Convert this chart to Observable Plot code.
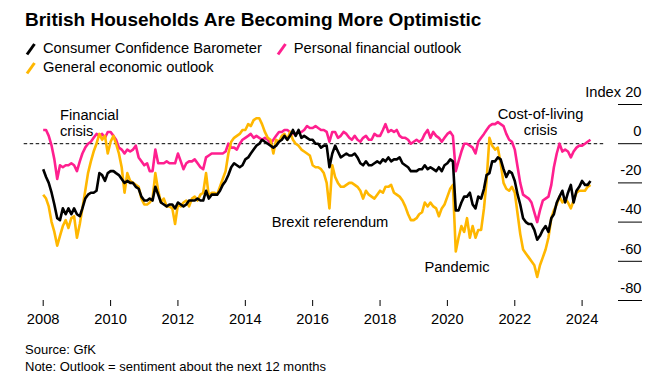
<!DOCTYPE html>
<html><head><meta charset="utf-8">
<script src="https://cdn.jsdelivr.net/npm/d3@7"></script>
<script src="https://cdn.jsdelivr.net/npm/@observablehq/plot@0.6"></script>
<style>
body{margin:0;background:#fff;font-family:"Liberation Sans",Arial,Helvetica,sans-serif;color:#000;}
#wrap{position:relative;width:661px;height:391px;overflow:hidden;background:#fff}
#title{position:absolute;left:25px;top:9px;font-weight:bold;font-size:19px;line-height:22px;white-space:nowrap}
#legend{position:absolute;left:25px;top:39px;width:480px;font-size:14.7px;line-height:19px;display:flex;flex-wrap:wrap}
.item{display:flex;align-items:center;margin-right:14px;white-space:nowrap}
.item svg{margin-right:6px}
#chart{position:absolute;left:0;top:80px}
#footer{position:absolute;left:25px;top:341px;font-size:13px;line-height:17px}
</style></head>
<body><div id="wrap">
<div id="title">British Households Are Becoming More Optimistic</div>
<div id="legend"></div>
<div id="chart"></div>
<div id="footer"><div>Source: GfK</div><div>Note: Outlook = sentiment about the next 12 months</div></div>
</div>
<script>
// Monthly values, Jan 2008 – Apr 2024
const startMonth = "2008-01-01";
const seriesNames = ["Consumer Confidence Barometer", "Personal financial outlook", "General economic outlook"];
const seriesColors = ["#000000", "#ff1f8f", "#ffb700"];

const confidence = [
 -13,-17,-20,-25,-31,-38,-39,-33,-36,-33,-36,-33,
 -36,-37,-33,-28,-26,-25,-25,-24,-15,-16,-19,-15,
 -14,-14,-15,-16,-18,-20,-19,-20,-20,-22,-23,-27,
 -29,-29,-28,-29,-22,-26,-30,-31,-32,-31,-31,-33,
 -30,-31,-32,-31,-29,-29,-29,-28,-29,-29,-24,-28,
 -26,-26,-26,-24,-21,-19,-16,-12,-10,-11,-12,-11,
 -8,-7,-5,-3,-1,0,2,1,0,-1,-2,-1,
 1,2,4,2,4,7,4,7,3,4,3,2,
 2,0,0,-2,-1,-1,-12,-5,-1,-4,-7,-6,
 -5,-6,-6,-5,-7,-10,-11,-9,-11,-11,-10,-9,
 -10,-8,-9,-7,-9,-8,-8,-7,-10,-11,-12,-14,
 -14,-14,-13,-13,-11,-13,-12,-13,-14,-12,-14,-11,
 -10,-8,-9,-34,-34,-30,-27,-27,-25,-31,-33,-27,
 -28,-23,-16,-15,-9,-9,-7,-8,-13,-17,-14,-15,
 -19,-26,-31,-38,-40,-41,-41,-44,-49,-47,-44,-42,
 -45,-38,-36,-30,-27,-24,-30,-25,-21,-30,-24,-22,
 -19,-21,-21,-19
];
const personal = [
 7,7,4,-1,-8,-18,-11,-12,-11,-11,-10,-11,
 -14,-9,-5,-2,0,1,3,5,4,5,3,6,
 6,4,2,-2,-3,-5,-3,-4,-3,-1,-7,-9,
 -11,-10,-14,-14,-3,-10,-10,-10,-9,-10,-10,-10,
 -5,-9,-13,-10,-9,-9,-8,-10,-12,-13,-7,-6,
 -5,-5,-5,-5,-5,-4,0,-2,-2,-3,0,2,
 3,4,5,3,4,3,2,3,2,0,2,4,
 6,6,7,7,6,5,5,6,6,7,9,8,
 8,9,8,7,7,6,1,6,6,3,4,6,
 5,3,2,4,2,1,3,4,2,2,5,4,
 4,7,10,6,7,6,7,4,3,3,2,0,
 1,2,1,2,5,7,3,6,4,3,1,3,
 5,6,4,-14,-9,-4,0,0,-1,-2,-5,1,
 3,5,7,9,10,10,11,10,9,5,2,1,
 -3,-12,-20,-26,-27,-28,-30,-35,-40,-34,-29,-28,
 -27,-21,-12,-5,0,-4,-3,-4,-7,-4,-2,-1,
 -1,0,1,2
];
const economic = [
 -26,-28,-32,-40,-45,-52,-47,-42,-39,-43,-38,-37,
 -48,-41,-33,-24,-15,-9,-4,0,5,2,4,-5,
 1,4,0,-5,-12,-25,-15,-19,-20,-21,-22,-28,
 -31,-31,-30,-28,-15,-24,-30,-28,-32,-32,-33,-41,
 -31,-32,-30,-29,-32,-28,-27,-29,-26,-25,-15,-27,
 -25,-25,-26,-22,-18,-14,-5,1,3,4,5,7,
 7,10,9,12,13,13,10,6,3,2,-5,2,
 1,4,5,2,6,2,0,-1,-3,-4,-5,-6,
 -11,-12,-12,-13,-15,-20,-33,-11,-17,-20,-22,-22,
 -21,-20,-20,-21,-22,-24,-28,-24,-26,-27,-28,-26,
 -24,-25,-22,-22,-21,-25,-26,-27,-29,-32,-36,-39,
 -39,-38,-36,-35,-30,-32,-30,-32,-33,-37,-33,-31,
 -27,-23,-21,-55,-48,-42,-45,-38,-48,-42,-48,-44,
 -44,-33,-19,3,-1,-3,-2,-10,-20,-23,-24,-22,
 -25,-36,-46,-54,-56,-58,-60,-62,-68,-62,-58,-54,
 -48,-38,-34,-31,-27,-30,-28,-30,-33,-29,-25,-24,
 -24,-24,-22,-21
];
const xTickYears = [2008, 2010, 2012, 2014, 2016, 2018, 2020, 2022, 2024];
const yTicks = [20, 0, -20, -40, -60, -80];
const annotations = [
  {date: "2008-07-01", value: 10.5, label: "Financial\ncrisis", anchor: "start"},
  {date: "2016-07-07", value: -40, label: "Brexit referendum", anchor: "middle"},
  {date: "2020-04-15", value: -63, label: "Pandemic", anchor: "middle"},
  {date: "2022-10-07", value: 11, label: "Cost-of-living\ncrisis", anchor: "middle"}
];

// legend
const legend = document.getElementById("legend");
seriesNames.forEach((name, i) => {
  const item = document.createElement("div");
  item.className = "item";
  item.innerHTML = `<svg width="12" height="14"><line x1="2" y1="12.5" x2="9.5" y2="2" stroke="${seriesColors[i]}" stroke-width="3"/></svg><span>${name}</span>`;
  legend.appendChild(item);
});

const start = new Date(startMonth);
const seriesValues = [confidence, personal, economic];
const rows = [];
// draw order: personal, economic, confidence (black on top)
[1, 2, 0].forEach(si => {
  seriesValues[si].forEach((v, i) => rows.push({series: seriesNames[si], date: d3.utcMonth.offset(start, i), value: v}));
});
const ann = annotations.map(a => ({...a, date: new Date(a.date)}));

const chart = Plot.plot({
  width: 661,
  height: 260,
  marginLeft: 42.7,
  marginRight: 79.4,
  marginTop: 24,
  marginBottom: 40,
  style: {fontFamily: '"Liberation Sans", Arial, Helvetica, sans-serif', fontSize: "14.7px", color: "#000", background: "transparent", overflow: "visible"},
  x: {type: "utc", domain: [new Date("2008-01-01"), new Date("2024-01-01")]},
  y: {domain: [-80, 20]},
  color: {domain: seriesNames, range: seriesColors},
  marks: [
    Plot.ruleY([0], {stroke: "#000", strokeWidth: 1, strokeDasharray: "3.5,2.5", insetLeft: -19, insetRight: -24}),
    Plot.axisY(yTicks, {anchor: "right", tickSize: 24, tickPadding: 0, dx: 35.4, tickFormat: () => "", label: null, stroke: "#000", strokeWidth: 1}),
    Plot.axisY(yTicks, {anchor: "right", tickSize: 0, tickPadding: 0, dx: 59.4, dy: -12.5, textAnchor: "end", label: null, fill: "#000", fontSize: 14.7,
      tickFormat: d => d === 20 ? "Index 20" : String(d)}),
    Plot.axisX(xTickYears.map(y => new Date(Date.UTC(y, 0, 1))), {anchor: "bottom", tickSize: 6, tickPadding: 7, tickFormat: d3.utcFormat("%Y"), label: null, stroke: "#000", fill: "#000", fontSize: 14.7}),
    Plot.line(rows, {x: "date", y: "value", z: "series", stroke: "series", strokeWidth: 2.6, strokeLinejoin: "round", strokeLinecap: "butt"}),
    Plot.text(ann.filter(a => a.anchor === "start"), {x: "date", y: "value", text: "label", textAnchor: "start", lineHeight: 1.1, fill: "#000", fontSize: 14.7}),
    Plot.text(ann.filter(a => a.anchor === "middle"), {x: "date", y: "value", text: "label", textAnchor: "middle", lineHeight: 1.1, fill: "#000", fontSize: 14.7})
  ]
});
document.getElementById("chart").appendChild(chart);
</script>
</body></html>
